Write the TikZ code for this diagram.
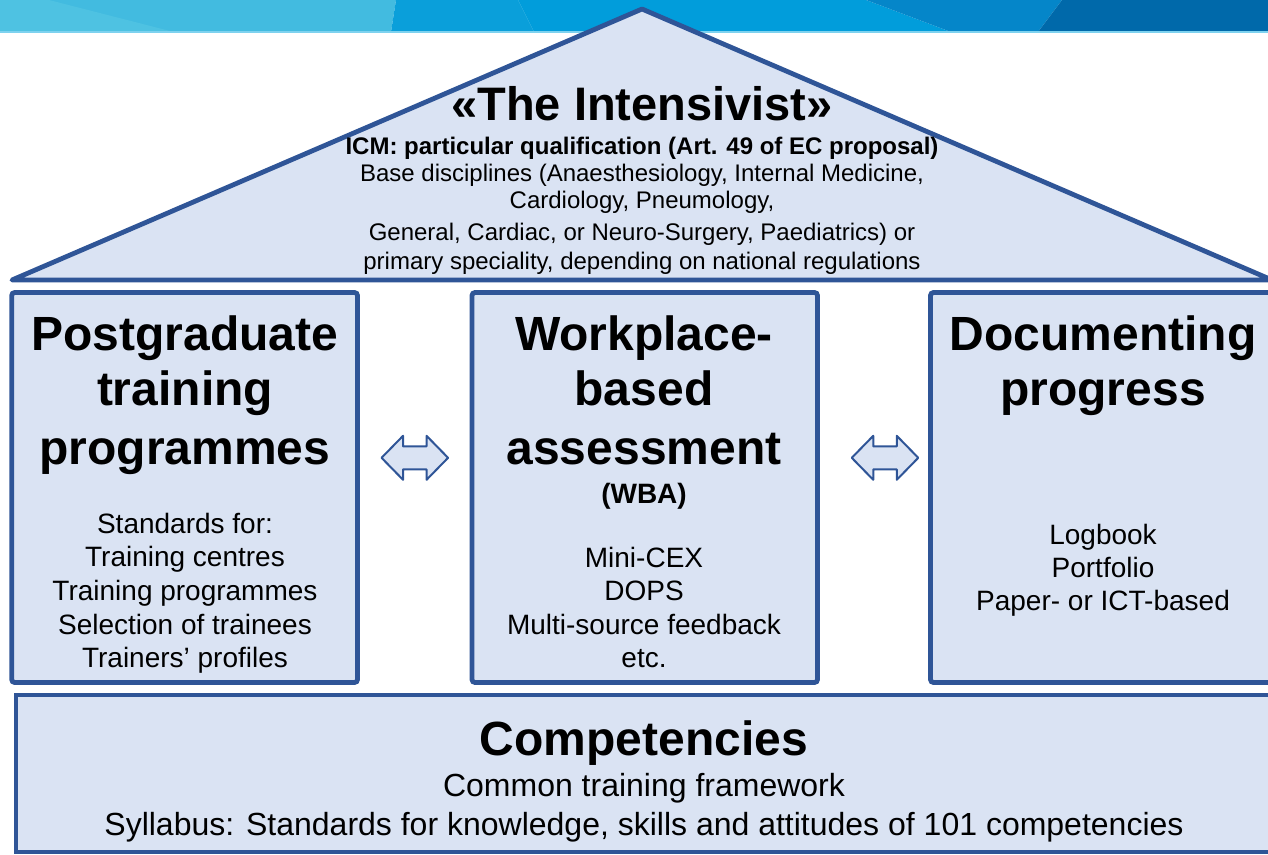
\documentclass[tikz,border=0pt]{standalone}
\usepackage{fontspec}
\setmainfont{Liberation Sans}

\definecolor{boxfill}{HTML}{DAE3F3}
\definecolor{boxline}{HTML}{2F5597}
\definecolor{bandA}{HTML}{4EC2E2}
\definecolor{bandB}{HTML}{42BBE0}
\definecolor{bandC}{HTML}{0A9FDA}
\definecolor{bandD}{HTML}{019DDB}
\definecolor{bandE}{HTML}{0586C9}
\definecolor{bandF}{HTML}{0069AA}
\definecolor{bandLine}{HTML}{7ED2EF}

\tikzset{
  panel/.style={draw=boxline, fill=boxfill, line width=4.8pt},
  pillar/.style={panel, rounded corners=3pt, inner sep=0pt},
  darrow/.style={draw=boxline, fill=boxfill, line width=2pt, line join=round},
  txt/.style={anchor=base, inner sep=0pt, text=black},
  titletxt/.style={txt, font=\bfseries\fontsize{47}{56}\selectfont},
  headtxt/.style={txt, font=\bfseries\fontsize{48}{57}\selectfont},
  subhead/.style={txt, font=\bfseries\fontsize{28}{33}\selectfont},
  bodytxt/.style={txt, font=\fontsize{28}{33}\selectfont},
  basetxt/.style={txt, font=\fontsize{32}{38}\selectfont},
  roofbold/.style={txt, font=\bfseries\fontsize{24}{28}\selectfont},
  rooftxt/.style={txt, font=\fontsize{24}{28}\selectfont},
}
% two-headed block arrow: tip at the current point, head 21.5 long,
% shaft 23.5 long and 23 high, heads 44 high
\newcommand\blockarrow[1]{%
  \draw[darrow] (#1) ++(-33.25,0) -- ++(21.5,-22) -- ++(0,10.5) -- ++(23.5,0)
    -- ++(0,-10.5) -- ++(21.5,22) -- ++(-21.5,22) -- ++(0,-10.5)
    -- ++(-23.5,0) -- ++(0,10.5) -- cycle;}

\begin{document}
\begin{tikzpicture}[x=1pt,y=-1pt]
\useasboundingbox (0,0) rectangle (1268,854);
\clip (0,0) rectangle (1268,854);

% header band
\fill[bandB] (0,0) -- (396,0) -- (391,32) -- (0,32) -- cycle;
\fill[bandA] (0,0) -- (49,0) -- (174,32) -- (0,32) -- cycle;
\fill[bandC] (396,0) -- (518,0) -- (534,32) -- (391,32) -- cycle;
\fill[bandD] (518,0) -- (866,0) -- (951,32) -- (534,32) -- cycle;
\fill[bandE] (866,0) -- (1062,0) -- (1038,32) -- (951,32) -- cycle;
\fill[bandF] (1062,0) -- (1268,0) -- (1268,32) -- (1038,32) -- cycle;
\fill[bandLine] (0,31) rectangle (1268,33);

% roof
\draw[panel, line join=round] (12,280) -- (642,9) -- (1272,280) -- cycle;
\node[titletxt] (title) at (642,120) {«The Intensivist»};
\node[roofbold] (icm) at (642,154) {ICM: particular qualification (Art. 49 of EC proposal)};
\node[rooftxt] (roofa) at (642,181) {Base disciplines (Anaesthesiology, Internal Medicine,};
\node[rooftxt] (roofb) at (642,208) {Cardiology, Pneumology,};
\node[rooftxt] (roofc) at (642,240) {General, Cardiac, or Neuro-Surgery, Paediatrics) or};
\node[rooftxt] (roofd) at (642,269) {primary speciality, depending on national regulations};

% pillars
\node[pillar, minimum width=345.8pt, minimum height=390pt] (left) at (184.6,487.5) {};
\node[pillar, minimum width=345.5pt, minimum height=390pt] (mid) at (644.75,487.5) {};
\node[pillar, minimum width=345.5pt, minimum height=390pt] (right) at (1103.25,487.5) {};

% foundation
\node[pillar, rounded corners=0pt, minimum width=1256pt, minimum height=157pt] (found) at (644,773.5) {};

% links between pillars
\coordinate (arrL) at (414.8,457.8);
\coordinate (arrR) at (885,457.8);
\blockarrow{arrL}
\blockarrow{arrR}

% left pillar text
\node[headtxt] (lh1) at (185,350) {Postgraduate};
\node[headtxt] (lh2) at (185,405) {training};
\node[headtxt] (lh3) at (185,464) {programmes};
\node[bodytxt] (lb1) at (185,533) {Standards for:};
\node[bodytxt] (lb2) at (185,566.5) {Training centres};
\node[bodytxt] (lb3) at (185,600.5) {Training programmes};
\node[bodytxt] (lb4) at (185,634) {Selection of trainees};
\node[bodytxt] (lb5) at (185,667.5) {Trainers’ profiles};

% middle pillar text
\node[headtxt] (mh1) at (644,350) {Workplace-};
\node[headtxt] (mh2) at (644,405) {based};
\node[headtxt] (mh3) at (644,464) {assessment};
\node[subhead] (mh4) at (644,503) {(WBA)};
\node[bodytxt] (mb1) at (644,567) {Mini-CEX};
\node[bodytxt] (mb2) at (644,600.5) {DOPS};
\node[bodytxt] (mb3) at (644,634) {Multi-source feedback};
\node[bodytxt] (mb4) at (644,667.5) {etc.};

% right pillar text
\node[headtxt] (rh1) at (1103,350) {Documenting};
\node[headtxt] (rh2) at (1103,405) {progress};
\node[bodytxt] (rb1) at (1103,544) {Logbook};
\node[bodytxt] (rb2) at (1103,577) {Portfolio};
\node[bodytxt] (rb3) at (1103,610) {Paper- or ICT-based};

% foundation text
\node[headtxt] (fh) at (644,755) {Competencies};
\node[basetxt] (fb1) at (644,796) {Common training framework};
\node[basetxt] (fb2) at (644,835) {Syllabus: Standards for knowledge, skills and attitudes of 101 competencies};
\end{tikzpicture}
\end{document}
